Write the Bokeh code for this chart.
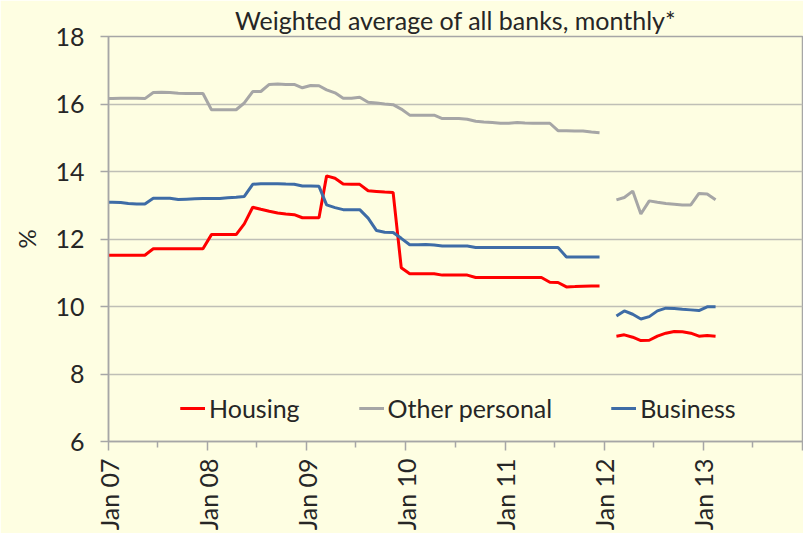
import numpy as np
import pandas as pd
from bokeh.plotting import figure
from bokeh.models import FixedTicker, Range1d, Legend, LegendItem
from bokeh.embed import file_html
from bokeh.resources import INLINE

# ---------------- data ----------------
# monthly observations (mid-month); first segment Dec 2006 - Dec 2011, second Feb 2012 - Feb 2013
seg1_start, seg1_end = "2006-12", "2011-12"
seg2_start, seg2_end = "2012-02", "2013-02"

housing_1 = [11.52,
             11.52, 11.52, 11.52, 11.52, 11.52,
             11.71, 11.71, 11.71, 11.71, 11.71, 11.71, 11.71,
             12.13, 12.13, 12.13, 12.13,
             12.45, 12.94, 12.88, 12.82, 12.77, 12.74, 12.72,
             12.63, 12.63, 12.63,
             13.87, 13.80, 13.63,
             13.62, 13.62,
             13.43, 13.41, 13.39, 13.38, 11.15,
             10.97, 10.97, 10.97, 10.97,
             10.93, 10.93, 10.93, 10.93,
             10.86, 10.86, 10.86, 10.86, 10.86, 10.86, 10.86, 10.86, 10.86,
             10.72, 10.71, 10.58, 10.59, 10.60, 10.61, 10.61]

other_1 = [16.16,
           16.16, 16.17, 16.17, 16.17, 16.16,
           16.34, 16.35, 16.34, 16.32, 16.31, 16.31, 16.31,
           15.83, 15.83, 15.83, 15.83,
           16.03,
           16.37, 16.37,
           16.58, 16.59, 16.58, 16.58,
           16.48,
           16.55, 16.54,
           16.42, 16.33,
           16.17, 16.17, 16.20,
           16.05, 16.03, 16.00, 15.98,
           15.85,
           15.67, 15.67, 15.67, 15.67,
           15.57, 15.57, 15.57,
           15.55,
           15.49, 15.47, 15.45, 15.43,
           15.43, 15.45, 15.44, 15.43, 15.43, 15.43,
           15.21, 15.21, 15.20, 15.20,
           15.17, 15.15]

business_1 = [13.09,
              13.09, 13.08, 13.05, 13.04, 13.04,
              13.21, 13.21, 13.21,
              13.17, 13.18, 13.19, 13.20, 13.20, 13.20,
              13.22, 13.24, 13.26,
              13.62, 13.64, 13.64, 13.64, 13.63,
              13.62, 13.57, 13.57, 13.56,
              13.01, 12.93,
              12.87, 12.87, 12.87,
              12.62, 12.25, 12.20, 12.19,
              12.02,
              11.83, 11.83, 11.84, 11.82,
              11.79, 11.79, 11.79, 11.79,
              11.75, 11.75, 11.75, 11.75, 11.75, 11.75, 11.75, 11.75, 11.75, 11.75, 11.75,
              11.47, 11.47, 11.47, 11.47, 11.47]

housing_2 = [9.12, 9.16, 9.09, 8.99, 9.00, 9.12, 9.21, 9.26, 9.25, 9.21, 9.12, 9.14, 9.12]
other_2 = [13.16, 13.23, 13.42, 12.74, 13.13, 13.09, 13.05, 13.03, 13.01, 13.01, 13.35, 13.33, 13.16]
business_2 = [9.72, 9.87, 9.77, 9.63, 9.70, 9.87, 9.95, 9.94, 9.92, 9.90, 9.88, 9.99, 9.99]

series_names = ["Housing", "Other personal", "Business"]
tick_years = [2007, 2008, 2009, 2010, 2011, 2012, 2013, 2014]
tick_labels = ["Jan 07", "Jan 08", "Jan 09", "Jan 10", "Jan 11", "Jan 12", "Jan 13", ""]
y_ticks = [6, 8, 10, 12, 14, 16, 18]

title_text = "Weighted average of all banks, monthly*"


def to_x(start, end):
    ts = pd.period_range(start, end, freq="M").to_timestamp(how="start") + pd.Timedelta(days=14)
    return np.asarray(ts.year + (ts.dayofyear - 1) / 365.25, dtype=float)


x1 = to_x(seg1_start, seg1_end)
x2 = to_x(seg2_start, seg2_end)

# ---------------- styling ----------------
BG = "#FEFEE2"
GRID = "#BFBFB6"
TXT = "#262626"
FONT = "Lato"
FS = "25px"
colors = ["#FF0000", "#A6A6A6", "#3E6CA6"]

p = figure(width=803, height=533, output_backend="svg", toolbar_location=None,
           x_range=Range1d(2007, 2014), y_range=Range1d(6, 18),
           min_border_left=108, min_border_right=1, min_border_top=36, min_border_bottom=89,
           background_fill_color=BG, border_fill_color=BG, title=title_text)

p.title.align = "center"
p.title.text_font = FONT
p.title.text_font_size = FS
p.title.text_font_style = "normal"
p.title.text_color = TXT
p.title.standoff = 4

p.outline_line_color = "#A6A6A6"
p.outline_line_width = 1.5

p.xgrid.visible = False
p.ygrid.grid_line_color = GRID
p.ygrid.grid_line_width = 1.5

yax = p.yaxis[0]
yax.ticker = FixedTicker(ticks=y_ticks)
yax.major_tick_out = 8
yax.major_tick_in = 0
yax.minor_tick_out = 0
yax.minor_tick_in = 0
yax.axis_line_color = "#A6A6A6"
yax.axis_line_width = 1.5
yax.major_tick_line_color = "#A6A6A6"
yax.major_tick_line_width = 1.5
yax.major_label_text_font = FONT
yax.major_label_text_font_size = FS
yax.major_label_text_color = TXT
yax.major_label_standoff = 16
yax.axis_label = "%"
yax.axis_label_text_font = FONT
yax.axis_label_text_font_size = "24px"
yax.axis_label_text_font_style = "normal"
yax.axis_label_text_color = TXT
yax.axis_label_standoff = 11

xax = p.xaxis[0]
xax.ticker = FixedTicker(ticks=tick_years, minor_ticks=[y + 0.496 for y in tick_years[:-1]])
xax.major_label_overrides = {y: lab for y, lab in zip(tick_years, tick_labels)}
xax.major_tick_out = 9
xax.major_tick_in = 0
xax.minor_tick_out = 6
xax.minor_tick_in = 0
xax.axis_line_color = "#A6A6A6"
xax.axis_line_width = 1.5
xax.major_tick_line_color = "#A6A6A6"
xax.major_tick_line_width = 1.5
xax.minor_tick_line_color = "#A6A6A6"
xax.minor_tick_line_width = 1.5
xax.major_label_orientation = np.pi / 2
xax.major_label_text_font = FONT
xax.major_label_text_font_size = FS
xax.major_label_text_color = TXT
xax.major_label_standoff = 8

items = []
for name, c, y1, y2 in zip(series_names, colors,
                           [housing_1, other_1, business_1],
                           [housing_2, other_2, business_2]):
    r1 = p.line(x1, y1, line_color=c, line_width=3)
    r2 = p.line(x2, y2, line_color=c, line_width=3)
    items.append(LegendItem(label=name, renderers=[r1, r2]))

legend = Legend(items=items, orientation="horizontal", location=(72, 18),
                border_line_color=None, background_fill_alpha=0,
                label_text_font=FONT, label_text_font_size=FS, label_text_color=TXT,
                glyph_width=25, glyph_height=24, label_standoff=4, spacing=59,
                padding=0, margin=0)
p.add_layout(legend)

open("out.html", "w").write(file_html(p, INLINE))
